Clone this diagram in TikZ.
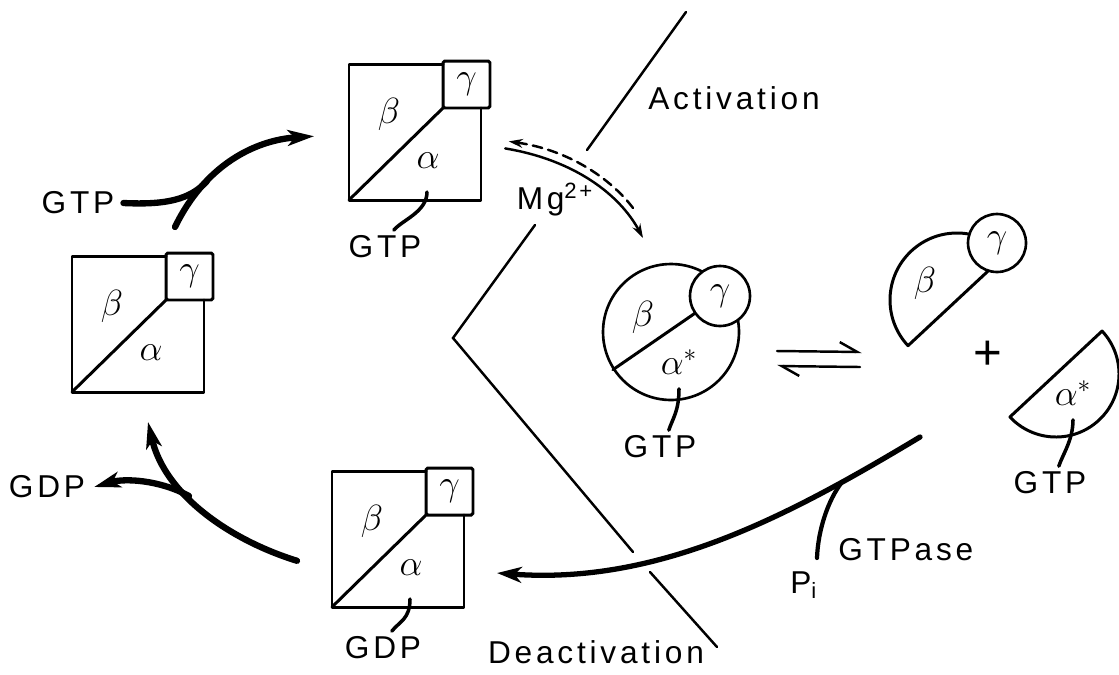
\documentclass[tikz,border=0pt]{standalone}
\usepackage{fontspec}
\setmainfont{Liberation Sans}
\newfontfamily\lblfont[LetterSpace=12]{Liberation Sans}
\usetikzlibrary{arrows.meta,positioning}
\tikzset{
  >=Stealth,
  lbl/.style={font=\lblfont\fontsize{18}{20}\selectfont, inner sep=0pt},
  grk/.style={font=\fontsize{22}{24}\selectfont, inner sep=0pt},
  box/.style={line width=1.7pt, line join=round, line cap=round},
  gsq/.style={grk, draw, line width=1.7pt, rounded corners=1pt, minimum size=0.94cm},
  disc/.style={circle, draw, line width=1.5pt, inner sep=0pt},
  tail/.style={line width=2pt, line cap=round},
  divider/.style={line width=1.4pt, line cap=round},
  cyc/.style={line width=3.6pt, line cap=round},
  cyctip/.style={-{Stealth[length=15pt,width=9pt,inset=4pt]}},
  eq/.style={line width=1.4pt, line cap=round},
  pics/gsquare/.style={code={
    \draw[box] (94,-136) -- (0,-136) -- (0,0) -- (132,0) -- (132,-92);
    \draw[box] (0,0) -- (94,-92);
    \node[gsq] (-g) at (117.5,-115.5) {$\gamma$};
    \node[grk] (-b) at (40,-86) {$\beta$};
    \node[grk] (-a) at (79,-39) {$\alpha$};
    \coordinate (-t) at (78,-8);
    \coordinate (-n) at (103,-165);
    \coordinate (-s) at (76,30);
    \coordinate (-w) at (-35,-55);
    \coordinate (-e) at (165,-34);
  }},
}

\begin{document}
\begin{tikzpicture}[x=0.02cm, y=-0.02cm]
  \useasboundingbox (0,0) rectangle (1119,674);

  \pic (T) at (349,200) {gsquare};
  \pic (L) at (72,392) {gsquare};
  \pic (B) at (332,607) {gsquare};

  \node[lbl] (gtpT) at (385,247) {GTP};
  \draw[tail] (T-t) .. controls +(0,20) and +(8,-10) .. ([xshift=5pt,yshift=3pt]gtpT.north);
  \node[lbl] (gdpB) at (383,648) {GDP};
  \draw[tail] (B-t) .. controls +(0,20) and +(8,-10) .. ([xshift=5pt,yshift=3pt]gdpB.north);

  % left cycle
  \node[lbl] (gtpL) at (78,203) {GTP};
  \node[lbl] (gdpL) at (47,487) {GDP};
  \coordinate (jT) at (207,181);
  \coordinate (jB) at (189,496);
  \draw[cyc, cyctip] (L-n) .. controls (205,165) and (255,140) .. ([yshift=5pt]T-w);
  \draw[cyc] ([xshift=5pt]gtpL.east) .. controls (165,205) and (190,200) .. (jT);
  \draw[cyc, cyctip] ([yshift=-5pt]B-w) .. controls (230,540) and (165,495) .. (L-s);
  \draw[cyc, cyctip] (jB) .. controls (160,480) and (125,478) .. ([xshift=5pt]gdpL.east);

  % activation / deactivation walls
  \draw[divider] (686,12) -- (587,150);
  \draw[divider] (535,225) -- (453,338) -- (633,552);
  \draw[divider] (650,572) -- (717,647);
  \node[lbl] (act) at (734,98) {Activation};
  \node[lbl] (deact) at (596,652) {Deactivation};
  \node[lbl] (mg) at (555,200) {Mg\textsuperscript{2+}};

  \coordinate (actE) at (643,238);
  \coordinate (actD) at (633,208);
  \draw[eq, -{Stealth[length=8pt,width=5pt]}] ([xshift=-5pt,yshift=10pt]T-e) .. controls (575,160) and (620,195) .. (actE);
  \draw[eq, dash pattern=on 5.5pt off 3.5pt, -{Stealth[length=8pt,width=5pt]}] (actD) .. controls (612,180) and (570,150) .. ([xshift=-3pt,yshift=14pt]T-e);

  % active complex
  \node[disc, minimum size=2.72cm] (cx) at (671,332) {};
  \coordinate (cxgc) at (720,296);
  \draw[box] (cx.213) -- (cxgc);
  \node[disc, fill=white, minimum size=1.2cm, grk] (cxg) at (cxgc) {$\gamma$};
  \node[grk] (cxb) at (643,317) {$\beta$};
  \node[grk] (cxa) at (679,362) {$\alpha^{*}$};
  \node[lbl] (gtpC) at (660,447) {GTP};
  \draw[tail] ([yshift=-8pt]cxa.south) .. controls +(0,22) and +(4,-12) .. ([xshift=5pt,yshift=3pt]gtpC.north);

  % equilibrium
  \coordinate (eq1s) at (777,351);
  \coordinate (eq1e) at (862,352);
  \coordinate (eq2s) at (860,367);
  \coordinate (eq2e) at (777,366);
  \draw[eq, -{Straight Barb[left,length=10pt,width=11pt]}] (eq1s) -- (eq1e);
  \draw[eq, -{Straight Barb[left,length=10pt,width=11pt]}] (eq2s) -- (eq2e);

  % dissociated subunits
  \coordinate (hb) at (957,300);
  \draw[box] (hb) ++(-43:67) arc[start angle=-43, end angle=-223, radius=67] -- cycle;
  \node[disc, fill=white, minimum size=1.16cm, grk] (hbg) at (997,243) {$\gamma$};
  \node[grk] (hbb) at (925,283) {$\beta$};
  \node[font=\fontsize{28}{30}\selectfont, inner sep=0pt] (plus) at (988,355) {+};
  \coordinate (ha) at (1056,374);
  \draw[box] (ha) ++(-43:63) arc[start angle=-43, end angle=137, radius=63] -- cycle;
  \node[grk] (haa) at (1073,393) {$\alpha^{*}$};
  \node[lbl] (gtpR) at (1050,483) {GTP};
  \draw[tail] ([yshift=-8pt]haa.south) .. controls +(0,20) and +(4,-12) .. ([xshift=5pt,yshift=3pt]gtpR.north);

  % GTPase deactivation
  \coordinate (dS) at (920,437);
  \coordinate (jD) at (842,482);
  \coordinate (piS) at (817,558);
  \draw[line width=3pt, line cap=round, -{Stealth[length=14pt,width=9pt,inset=4pt]}] (dS) .. controls (790,515) and (660,585) .. (B-e);
  \draw[line width=2.4pt, line cap=round] (jD) .. controls (828,500) and (818,530) .. (piS);
  \node[lbl, anchor=north west] (pi) at (790,571) {P\textsubscript{i}};
  \node[lbl, anchor=west] (gtpase) at (838,550) {GTPase};
\end{tikzpicture}
\end{document}
